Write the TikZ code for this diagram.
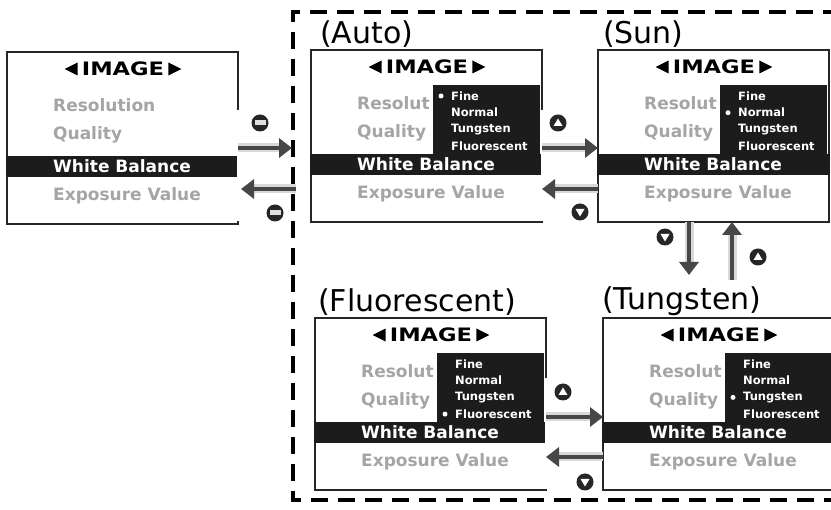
\documentclass[tikz,border=0pt]{standalone}
\usepackage{fontspec}
\usetikzlibrary{arrows.meta}

\newfontfamily\lcdfont{DejaVu Sans}
\newfontfamily\lcdwide{DejaVu Sans}[FakeStretch=1.22]
\definecolor{lcdgray}{RGB}{165,165,165}
\definecolor{lcdblack}{RGB}{28,28,28}

\tikzset{
  scrframe/.style = {draw=black!85, line width=2.5pt, fill=white, inner sep=0pt, outer sep=0pt,
                     minimum width=231pt, minimum height=172pt, anchor=north west},
  titletxt/.style = {font=\lcdwide\bfseries\fontsize{18.5}{18.5}\selectfont, inner sep=0pt},
  itemtxt/.style  = {font=\lcdfont\bfseries\fontsize{17}{17}\selectfont, inner sep=0pt, anchor=west},
  listtxt/.style  = {font=\lcdfont\bfseries\fontsize{11.5}{11.5}\selectfont, inner sep=0pt, anchor=west, white},
  modetxt/.style  = {font=\lcdfont\fontsize{30}{30}\selectfont, inner sep=0pt, anchor=west},
  arr/.style      = {-{Triangle[length=13pt,width=19pt]}, line width=3.5pt, draw=black!72,
                     preaction={draw=black!15, line width=9pt, arrows=-, shorten >=12pt}},
  dashframe/.style = {line width=3.5pt, dash pattern=on 17pt off 10pt}
}

% one menu screen: name, x, y, selected option (0 = no list)
\newcommand{\wbscreen}[4]{%
  \begin{scope}[shift={(#2,#3)}]
    \node[scrframe] (#1) at (0,0) {};
    \node[titletxt] (#1-title) at (116,17) {IMAGE};
    \fill ([xshift=-4pt]#1-title.west) ++(0,-6.5) -- ++(0,13) -- ++(-13,-6.5) -- cycle;
    \fill ([xshift=4pt]#1-title.east) ++(0,-6.5) -- ++(0,13) -- ++(13,-6.5) -- cycle;
    \node[itemtxt, lcdgray] (#1-res) at (46,53) {\ifnum#4>0 Resolut\else Resolution\fi};
    \node[itemtxt, lcdgray] (#1-qual) at (46,83) {Quality};
    \ifnum#4>0
      \fill[lcdblack] (122,35) rectangle (229,104);
      \foreach \opt [count=\i] in {Fine,Normal,Tungsten,Fluorescent}
        \node[listtxt] (#1-opt\i) at (140,{29.3+16.7*\i}) {\opt};
      \fill[white] (130,{29.3+16.7*#4}) circle (2.5);
    \fi
    \fill[lcdblack] (-1.25,104) rectangle (232.25,125);
    \node[itemtxt, white] (#1-wb) at (46,114.5) {White Balance};
    \node[itemtxt, lcdgray] (#1-ev) at (46,144) {Exposure Value};
  \end{scope}}

\newcommand{\btnup}[1]{\fill[black!85] #1 circle (8.5);
  \fill[white] #1 ++(0,-4.5) -- ++(4.5,7.5) -- ++(-9,0) -- cycle;}
\newcommand{\btndown}[1]{\fill[black!85] #1 circle (8.5);
  \fill[white] #1 ++(0,4.5) -- ++(4.5,-7.5) -- ++(-9,0) -- cycle;}
\newcommand{\btnmenu}[1]{\fill[black!85] #1 circle (8.5);
  \fill[black!12] #1 ++(-5.5,-2.5) rectangle ++(11,5);}

\begin{document}
\begin{tikzpicture}[x=1pt, y=-1pt]
  \useasboundingbox (0,0) rectangle (831,510);
  \fill[white] (0,0) rectangle (831,510);

  \wbscreen{menu}{7}{52}{0}
  \wbscreen{auto}{311}{50}{1}
  \wbscreen{sun}{598}{50}{2}
  \wbscreen{fluor}{315}{318}{4}
  \wbscreen{tung}{603}{318}{3}

  \node[modetxt] (lbl-auto) at (320,34) {(Auto)};
  \node[modetxt] (lbl-sun) at (603,34) {(Sun)};
  \node[modetxt] (lbl-fluor) at (318,302) {(Fluorescent)};
  \node[modetxt] (lbl-tung) at (602,301) {(Tungsten)};

  \draw[dashframe] (840,12) -- (293,12) -- (293,500) -- (840,500);

  % backgrounds of the arrow pictures
  \fill[white] (236.5,110) rectangle (290,221);
  \fill[white] (540.5,110) rectangle (596,221);
  \fill[white] (544.5,378) rectangle (601,489);

  \coordinate (gate-in) at (292,148);
  \coordinate (gate-out) at (296,189);
  \coordinate (r1) at (0,148);
  \coordinate (r2) at (0,189);
  \coordinate (r3) at (0,417);
  \coordinate (r4) at (0,457);
  \coordinate (dn) at (689,275);
  \coordinate (up) at (732,280);

  \draw[arr] (menu.east |- gate-in) -- (gate-in);
  \draw[arr] (gate-out) -- ([xshift=3pt]menu.east |- gate-out);
  \draw[arr] (auto.east |- r1) -- (sun.west |- r1);
  \draw[arr] (sun.west |- r2) -- (auto.east |- r2);
  \draw[arr] (sun.south -| dn) -- (dn);
  \draw[arr] (up) -- (sun.south -| up);
  \draw[arr] (fluor.east |- r3) -- (tung.west |- r3);
  \draw[arr] (tung.west |- r4) -- (fluor.east |- r4);

  \btnmenu{(260,123)}
  \btnmenu{(275,213)}
  \btnup{(558,123)}
  \btndown{(580,212)}
  \btndown{(665,237)}
  \btnup{(758,257)}
  \btnup{(563,392)}
  \btndown{(585,482)}
\end{tikzpicture}
\end{document}
